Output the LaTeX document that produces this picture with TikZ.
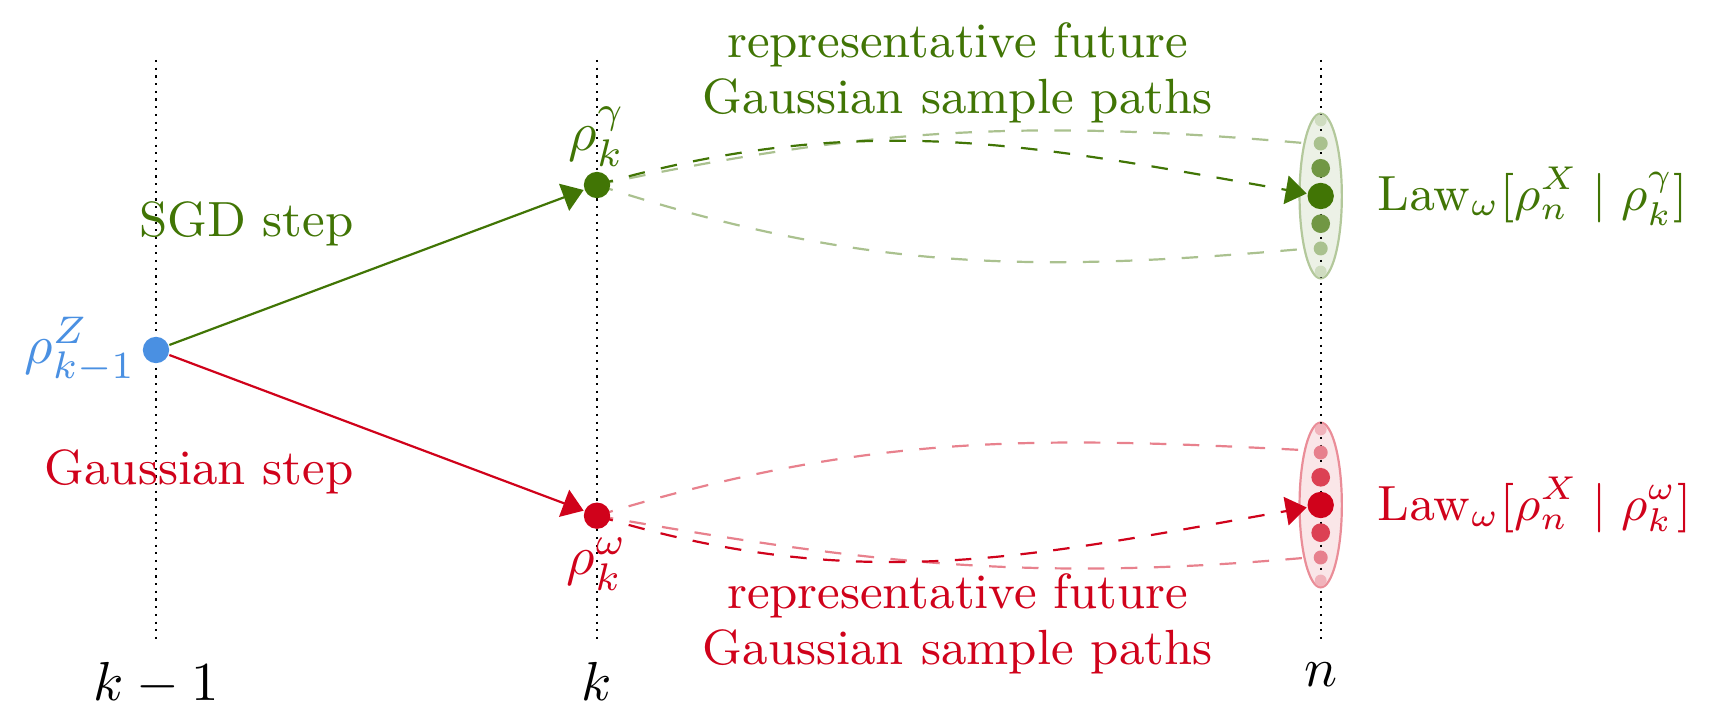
\documentclass[tikz,border=0pt]{standalone}
\usetikzlibrary{arrows.meta,shapes.geometric}
\pgfdeclarelayer{bg}
\pgfdeclarelayer{mid}
\pgfsetlayers{bg,mid,main}
\definecolor{grn}{HTML}{417505}
\definecolor{rd}{HTML}{D0021B}
\definecolor{blu}{HTML}{4A90E2}
\begin{document}
\begin{tikzpicture}[x=0.182pt,y=0.182pt,
  dotnode/.style={circle,fill,inner sep=0pt,minimum size=#1},
  vline/.style={black,line width=0.4pt,dash pattern=on 0.4pt off 1pt},
  dpath/.style={dashed,line width=0.4pt},
  arr/.style={-{Triangle[length=3.8pt,width=5.2pt]}},
  blob/.style={ellipse,inner sep=0pt,minimum width=7.7pt,minimum height=30pt,line width=0.4pt},
  phrase/.style={font=\small,align=center},
  mlabel/.style={font=\small}
]
\useasboundingbox (0,0) rectangle (1710,724);

% ---------- main layer: dots and texts ----------
\node[dotnode=4.8pt, fill=blu, label={[text=blu,label distance=-2.5pt]left:$\rho^Z_{k-1}$}] (Z) at (156,374) {};
\node[dotnode=4.8pt, fill=grn, label={[text=grn,label distance=-2.8pt]above:$\rho^\gamma_k$}] (G) at (597,539) {};
\node[dotnode=4.8pt, fill=rd, label={[text=rd,label distance=-2pt]below:$\rho^\omega_k$}] (R) at (597,208.3) {};

% green cloud dots
\node[dotnode=2.15pt, fill=grn!25] (g3u) at (1320.7,603.5) {};
\node[dotnode=2.55pt, fill=grn!45] (g2u) at (1320.7,580.5) {};
\node[dotnode=3.4pt, fill=grn!75]  (g1u) at (1320.7,555.7) {};
\node[dotnode=4.8pt, fill=grn]     (Gc)  at (1320.7,528) {};
\node[dotnode=3.4pt, fill=grn!75]  (g1d) at (1320.7,500.3) {};
\node[dotnode=2.55pt, fill=grn!45] (g2d) at (1320.7,475.5) {};
\node[dotnode=2.15pt, fill=grn!25] (g3d) at (1320.7,452.5) {};
% red cloud dots
\node[dotnode=2.15pt, fill=rd!30] (r3u) at (1320.7,294.5) {};
\node[dotnode=2.55pt, fill=rd!50] (r2u) at (1320.7,271.5) {};
\node[dotnode=3.4pt, fill=rd!75]  (r1u) at (1320.7,246.7) {};
\node[dotnode=4.8pt, fill=rd]     (Rc)  at (1320.7,219) {};
\node[dotnode=3.4pt, fill=rd!75]  (r1d) at (1320.7,191.3) {};
\node[dotnode=2.55pt, fill=rd!50] (r2d) at (1320.7,166.5) {};
\node[dotnode=2.15pt, fill=rd!30] (r3d) at (1320.7,143.5) {};

\node[phrase, text=grn] (tg) at (957.6,651) {representative future\\[-0.8pt]Gaussian sample paths};
\node[phrase, text=rd] (tr) at (957.6,100) {representative future\\[-0.8pt]Gaussian sample paths};
\node[phrase, text=grn, anchor=east] (sgd) at (373,500.4) {SGD step};
\node[phrase, text=rd, anchor=east] (gs) at (373,251.8) {Gaussian step};
\node[mlabel, text=grn, anchor=west] (lg) at (1358,528) {$\mathrm{Law}_\omega[\rho_n^X \mid \rho_k^\gamma]$};
\node[mlabel, text=rd, anchor=west] (lr) at (1358,219) {$\mathrm{Law}_\omega[\rho_n^X \mid \rho_k^\omega]$};

% ---------- background: clouds and time lines ----------
\begin{pgfonlayer}{bg}
\node[blob, draw=grn!40, fill=grn!10] (Eg) at (1320.7,528) {};
\node[blob, draw=rd!45, fill=rd!10] (Er) at (1320.7,219) {};
\coordinate (t1) at (156,664);  \coordinate (b1) at (156,81);
\coordinate (t2) at (597,664);  \coordinate (b2) at (597,81);
\coordinate (t3) at (1320.7,664); \coordinate (b3) at (1320.7,81);
\draw[vline] (t1) -- (b1);
\draw[vline] (t2) -- (b2);
\draw[vline] (t3) -- (b3);
\end{pgfonlayer}
\node[below] (lk1) at (b1) {$k-1$};
\node[below] (lk) at (b2) {$k$};
\node[below] (ln) at (b3) {$n$};

% ---------- middle: connectors ----------
\begin{pgfonlayer}{mid}
\draw[grn, arr] (Z) -- (G);
\draw[rd, arr] (Z) -- (R);
\draw[grn!45, dpath] (G.center) to[out=12,in=175] (Eg.108);
\draw[grn!45, dpath] (G.center) to[out=-18,in=185] (Eg.252);
\draw[grn, dpath, arr] (G.center) to[out=16,in=170] (Gc);
\draw[rd!50, dpath] (R.center) to[out=17,in=177] (Er.107);
\draw[rd!50, dpath] (R.center) to[out=-10,in=185] (Er.252);
\draw[rd, dpath, arr] (R.center) to[out=-17,in=190] (Rc);
\end{pgfonlayer}
\end{tikzpicture}
\end{document}
